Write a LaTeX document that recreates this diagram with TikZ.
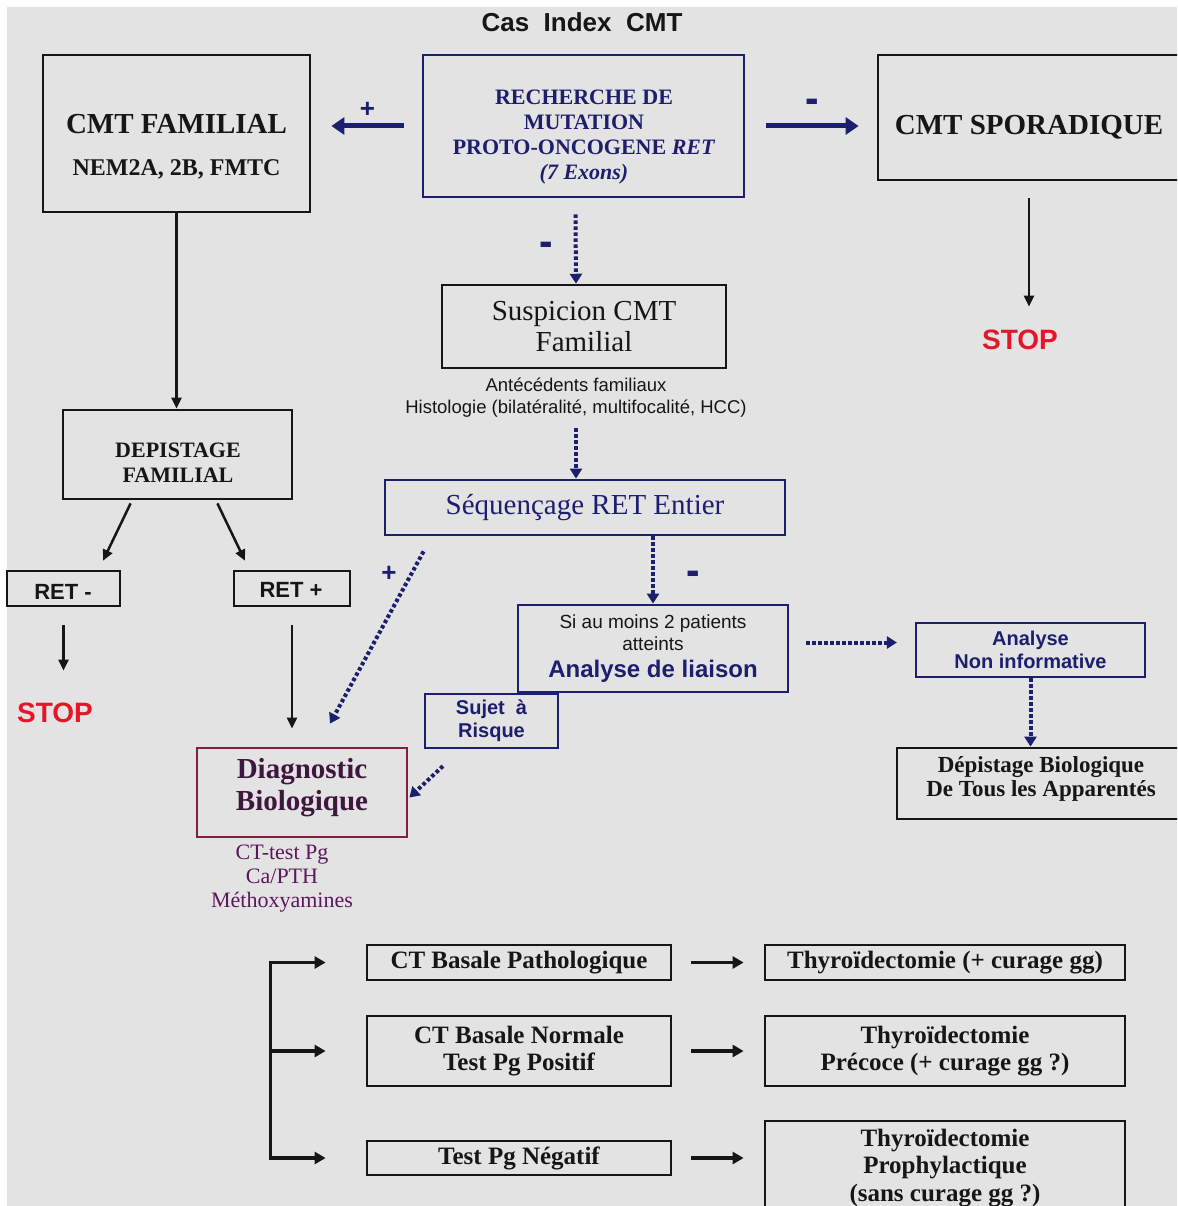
\documentclass[tikz,border=0pt]{standalone}
\usepackage{fontspec}
\usepackage{graphicx}
\setmainfont{Liberation Serif}
\newfontfamily\arialf{Liberation Sans}
\usetikzlibrary{arrows.meta,calc}
\definecolor{mynavy}{RGB}{28,30,110}
\definecolor{ink}{RGB}{22,22,22}
\definecolor{bggray}{RGB}{227,227,227}
\definecolor{stopred}{RGB}{228,22,40}
\definecolor{maroon}{RGB}{128,32,60}
\definecolor{diagtxt}{RGB}{62,22,62}
\definecolor{subtxt}{RGB}{92,22,92}
\newcommand{\thickminus}{\scalebox{1.35}[1.5]{-}}
\begin{document}
\begin{tikzpicture}[x=1pt,y=-1pt,
  bbox/.style={draw=ink, line width=2.8pt, inner sep=0pt},
  nbox/.style={draw=mynavy, line width=2.8pt, inner sep=0pt},
  blk/.style={draw=ink, line width=2.5pt, -{Triangle[length=11pt,width=10pt]}},
  blkb/.style={draw=ink, line width=3.5pt, -{Triangle[length=11pt,width=12pt]}},
  blkbb/.style={draw=ink, line width=3.5pt, {Triangle[length=11pt,width=12pt]}-{Triangle[length=11pt,width=12pt]}},
  nvy/.style={draw=mynavy, line width=5pt, -{Triangle[length=13pt,width=17pt]}},
  dotarr/.style={draw=mynavy, line width=4pt, dash pattern=on 3.5pt off 2.5pt, -{Triangle[length=10pt,width=12pt]}},
  sign/.style={font=\arialf\bfseries\fontsize{26}{28}\selectfont, text=mynavy, inner sep=1pt},
  msign/.style={font=\arialf\bfseries\fontsize{30}{30}\selectfont, text=mynavy, inner sep=1pt},
  stopt/.style={font=\arialf\bfseries\fontsize{28}{30}\selectfont, text=stopred},
  bot/.style={bbox, font=\bfseries\fontsize{25}{27.5}\selectfont, align=center, text=ink}
]
\clip (0,0) rectangle (1177,1206);
\fill[white] (0,0) rectangle (1177,1206);
\fill[bggray] (7,7) rectangle (1177,1206);

% title
\node[font=\arialf\bfseries\fontsize{26}{28}\selectfont, text=ink] (title) at (582,22) {Cas\ \ Index\ \ CMT};

% top row
\node[bbox, minimum width=267pt, minimum height=157pt] (fam) at (176.5,133.5) {};
\node[font=\bfseries\fontsize{29}{32}\selectfont, text=ink] (famA) at (176.5,124) {CMT FAMILIAL};
\node[font=\bfseries\fontsize{24}{26}\selectfont, text=ink] (famB) at (176.5,169) {NEM2A, 2B, FMTC};

\node[nbox, minimum width=321pt, minimum height=142pt] (rech) at (583.5,126) {};
\node[font=\bfseries\fontsize{22}{25}\selectfont, text=mynavy, align=center] (recht) at (584,137)
  {RECHERCHE DE\\MUTATION\\PROTO-ONCOGENE \textit{RET}\\\textit{(7 Exons)}};

\node[bbox, minimum width=302pt, minimum height=125pt] (spor) at (1029,117.5) {};
\node[font=\bfseries\fontsize{29}{32}\selectfont, text=ink] (sport) at (1029,127) {CMT SPORADIQUE};

\node[stopt] (stop1) at (1020,340) {STOP};

% middle column
\node[bbox, line width=2.5pt, minimum width=284pt, minimum height=83pt, align=center, text=ink,
  font=\fontsize{29}{31}\selectfont] (susp) at (584,326.5) {Suspicion CMT\\Familial};
\node[font=\arialf\fontsize{18.5}{22}\selectfont, align=center, text=ink] (ant) at (576,398)
  {Antécédents familiaux\\Histologie (bilatéralité, multifocalité, HCC)};
\node[nbox, minimum width=400pt, minimum height=55pt, text=mynavy, font=\fontsize{29}{31}\selectfont] (seq) at (585,507.5) {Séquençage RET Entier};

\node[nbox, minimum width=270pt, minimum height=87pt, align=center, text=ink,
  font=\arialf\fontsize{19}{22}\selectfont] (lia) at (653,648.5)
  {Si au moins 2 patients\\atteints\\[5pt]{\bfseries\fontsize{24}{27}\selectfont\color{mynavy}Analyse de liaison}};

\node[nbox, line width=2.2pt, minimum width=133pt, minimum height=54pt, align=center, text=mynavy,
  font=\arialf\bfseries\fontsize{20}{23}\selectfont] (suj) at (491.5,721) {Sujet\ \ à\\Risque};

\node[nbox, line width=2.2pt, minimum width=229pt, minimum height=54pt, align=center, text=mynavy,
  font=\arialf\bfseries\fontsize{20}{23}\selectfont] (ni) at (1030.5,650) {Analyse\\Non informative};

\node[bbox, minimum width=288pt, minimum height=71pt] (dbio) at (1041,783.5) {};
\node[font=\bfseries\fontsize{23}{24}\selectfont, align=center, text=ink] (dbiot) at (1041,779)
  {Dépistage Biologique\\De Tous les Apparentés};

% left column
\node[bbox, minimum width=229pt, minimum height=89pt] (depFam) at (177.5,454.5) {};
\node[font=\bfseries\fontsize{22}{25}\selectfont, align=center, text=ink] (depFamt) at (178,463) {DEPISTAGE\\FAMILIAL};

\node[bbox, line width=2.5pt, minimum width=113pt, minimum height=35pt] (retm) at (63.5,588.5) {};
\node[font=\arialf\bfseries\fontsize{22}{24}\selectfont, text=ink] (retmt) at (63,592) {RET -};
\node[bbox, line width=2.5pt, minimum width=116pt, minimum height=35pt] (retp) at (292,588.5) {};
\node[font=\arialf\bfseries\fontsize{22}{24}\selectfont, text=ink] (retpt) at (291,590) {RET +};

\node[stopt] (stop2) at (55,713) {STOP};

\node[draw=maroon, line width=2.8pt, minimum width=210pt, minimum height=89pt] (diag) at (302,792.5) {};
\node[font=\bfseries\fontsize{29}{32}\selectfont, align=center, text=diagtxt] (diagt) at (302,788) {Diagnostic\\Biologique};
\node[font=\fontsize{22}{24}\selectfont, align=center, text=subtxt] (diagsub) at (282,879)
  {CT-test Pg\\Ca/PTH\\Méthoxyamines};

% bottom
\node[bot, minimum width=304pt, minimum height=35pt] (ctp) at (519,962.5) {CT Basale Pathologique};
\node[bot, minimum width=304pt, minimum height=70pt] (ctn) at (519,1051) {CT Basale Normale\\Test Pg Positif};
\node[bot, minimum width=304pt, minimum height=34pt] (tpn) at (519,1158) {Test Pg Négatif};
\node[bot, minimum width=360pt, minimum height=35pt] (thy1) at (945,962.5) {Thyroïdectomie (+ curage gg)};
\node[bot, minimum width=360pt, minimum height=70pt] (thy2) at (945,1051) {Thyroïdectomie\\Précoce (+ curage gg ?)};
\node[bot, minimum width=360pt, minimum height=94pt] (thy3) at (945,1168) {Thyroïdectomie\\Prophylactique\\(sans curage gg ?)};

% connectors: top
\draw[nvy] ([xshift=-18pt]rech.west) -- ([xshift=20pt]fam.east |- rech.west)
  node[midway, above=5pt, sign] {+};
\draw[nvy] ([xshift=21pt]rech.east) -- ([xshift=-18pt]spor.west |- rech.east)
  node[midway, above=9pt, msign] {\thickminus};
\draw[blk] ([yshift=-17pt]spor.south) -- ([yshift=20pt]spor.south |- stop1.north);

% middle dotted
\draw[dotarr] ([xshift=-8pt,yshift=-16pt]rech.south) -- ([xshift=-8pt]susp.north)
  node[midway, left=20pt, msign] {\thickminus};
\draw[dotarr] ([yshift=-7pt]ant.south) -- ([xshift=-9pt]seq.north);
\draw[dotarr] (lia.north |- seq.south) -- (lia.north)
  node[midway, right=30pt, yshift=-8pt, msign] {\thickminus};
\draw[dotarr] ([xshift=40pt,yshift=-15pt]seq.south west) -- ([xshift=28pt,yshift=23pt]diag.north)
  node[pos=0.13, left=12pt, sign] {+};
\draw[dotarr] ([xshift=17pt,yshift=6pt]lia.east) -- ([xshift=-18pt,yshift=6pt]ni.west |- lia.east);
\draw[dotarr] (ni.south) -- (ni.south |- dbio.north);
\draw[dotarr] ([xshift=19pt,yshift=-17pt]suj.south west) -- ([xshift=1pt,yshift=-5pt]diag.east);

% left column
\draw[blk] (fam.south) -- (fam.south |- depFam.north);
\draw[blk] ([xshift=69pt,yshift=-3pt]depFam.south west) -- ([xshift=39.5pt,yshift=9pt]retm.north);
\draw[blk] ([xshift=-76pt,yshift=-3pt]depFam.south east) -- ([xshift=-47pt,yshift=9pt]retp.north);
\draw[blk] ([yshift=-18pt]retm.south) -- ([yshift=29pt]retm.south |- stop2.north);
\draw[blk] ([yshift=-18pt]retp.south) -- ([yshift=18pt]retp.south |- diag.north);

% bottom bracket and arrows
\draw[blkbb] ([xshift=-40pt]ctp.west) -- ([xshift=-95pt]ctp.west) -- ([xshift=-95pt]tpn.west) -- ([xshift=-40pt]tpn.west);
\draw[blkb] ([xshift=-95pt]ctn.west) -- ([xshift=-40pt]ctn.west);
\draw[blkb] ([xshift=19pt]ctp.east) -- ([xshift=-20pt]thy1.west);
\draw[blkb] ([xshift=19pt]ctn.east) -- ([xshift=-20pt]thy2.west);
\draw[blkb] ([xshift=19pt]tpn.east) -- ([xshift=-20pt]thy3.west |- tpn.east);
\end{tikzpicture}
\end{document}
